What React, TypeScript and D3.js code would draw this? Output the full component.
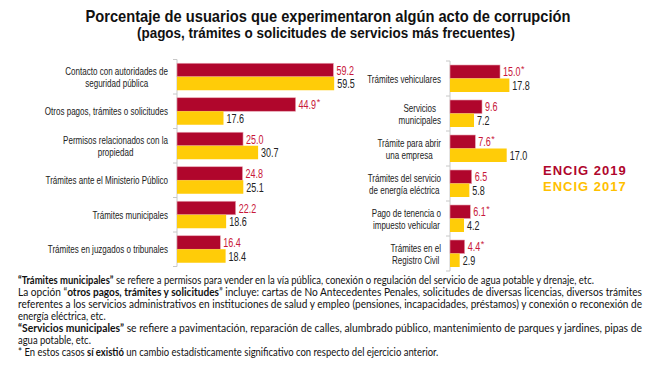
import React from "react";
import * as d3 from "d3";

const leftCategories = [
  ["Contacto con autoridades de", "seguridad pública"],
  ["Otros pagos, trámites o solicitudes"],
  ["Permisos relacionados con la", "propiedad"],
  ["Trámites ante el Ministerio Público"],
  ["Trámites municipales"],
  ["Trámites en juzgados o tribunales"],
];
const left2019 = [59.2, 44.9, 25.0, 24.8, 22.2, 16.4];
const left2017 = [59.5, 17.6, 30.7, 25.1, 18.6, 18.4];
const leftSignificant = [false, true, false, false, false, false];

const rightCategories = [
  ["Trámites vehiculares"],
  ["Servicios", "municipales"],
  ["Trámite para abrir", "una empresa"],
  ["Trámites del servicio", "de energía eléctrica"],
  ["Pago de tenencia o", "impuesto vehicular"],
  ["Trámites en el", "Registro Civil"],
];
const right2019 = [15.0, 9.6, 7.6, 6.5, 6.1, 4.4];
const right2017 = [17.8, 7.2, 17.0, 5.8, 4.2, 2.9];
const rightSignificant = [true, false, true, false, true, true];

const seriesNames = ["ENCIG 2019", "ENCIG 2017"];

const RED = "#b0062c";
const RED_TEXT = "#c8173a";
const YELLOW = "#ffcc08";
const LEGEND_YELLOW = "#ffc000";
const SANS = "'Liberation Sans', Arial, sans-serif";
const FOOT = "Lato, 'Open Sans', sans-serif";

let ctx: CanvasRenderingContext2D | null = null;
function measure(text: string, font: string) {
  if (!ctx) ctx = document.createElement("canvas").getContext("2d");
  if (!ctx) return text.length * 5;
  ctx.font = font;
  return ctx.measureText(text).width;
}

const LABEL_SIZE = 11;
const LABEL_SQUEEZE = 0.73;
const VALUE_SIZE = 12.5;
const VALUE_SQUEEZE = 0.72;

type PanelProps = {
  cats: string[][];
  v19: number[];
  v17: number[];
  sig: boolean[];
  axisX: number;
  top: number;
  step: number;
  maxVal: number;
  maxPx: number;
};

function Panel({ cats, v19, v17, sig, axisX, top, step, maxVal, maxPx }: PanelProps) {
  const x = d3.scaleLinear().domain([0, maxVal]).range([axisX, axisX + maxPx]);
  const y = d3
    .scaleBand<number>()
    .domain(d3.range(cats.length))
    .range([top, top + step * cats.length])
    .paddingInner(0);
  const barH = 13.5;
  const fmt = d3.format(".1f");
  const labelFont = `${LABEL_SIZE}px ${SANS}`;
  const valueFont = `${VALUE_SIZE}px ${SANS}`;

  return (
    <g>
      <line x1={axisX} x2={axisX} y1={y(0)} y2={y(cats.length - 1)! + step} stroke="#c8c8c8" strokeWidth={1} />
      {d3.range(cats.length + 1).map((i) => (
        <line key={"t" + i} x1={axisX - 4} x2={axisX} y1={top + i * step} y2={top + i * step} stroke="#c8c8c8" />
      ))}
      {cats.map((lines, i) => {
        const cy = y(i)! + step / 2;
        const widths = lines.map((l) => measure(l, labelFont) * LABEL_SQUEEZE);
        const blockW = Math.max(...widths);
        const cx = axisX - 9 - blockW / 2;
        const lh = 12;
        const y0 = cy - ((lines.length - 1) * lh) / 2 + 4;
        const r = x(v19[i]);
        const yl = x(v17[i]);
        const t19 = fmt(v19[i]);
        const t17 = fmt(v17[i]);
        const w19 = measure(t19, valueFont) * VALUE_SQUEEZE;
        const w17 = measure(t17, valueFont) * VALUE_SQUEEZE;
        return (
          <g key={i}>
            {lines.map((l, j) => (
              <text
                key={j}
                x={cx}
                y={y0 + j * lh}
                textAnchor="middle"
                fontFamily={SANS}
                fontSize={LABEL_SIZE}
                fill="#222"
                textLength={widths[j]}
                lengthAdjust="spacingAndGlyphs"
              >
                {l}
              </text>
            ))}
            <rect x={axisX} y={cy - barH} width={r - axisX} height={barH} fill={RED} stroke="#e7a3b1" strokeWidth={0.6} />
            <rect x={axisX} y={cy} width={yl - axisX} height={barH} fill={YELLOW} />
            <text
              x={r + 3}
              y={cy - barH / 2 + 4.5}
              fontFamily={SANS}
              fontSize={VALUE_SIZE}
              fill={RED_TEXT}
              textLength={w19}
              lengthAdjust="spacingAndGlyphs"
            >
              {t19}
            </text>
            {sig[i] && (
              <text x={r + 3 + w19 + 0.5} y={cy - barH / 2} fontFamily={SANS} fontSize={9} fill={RED_TEXT}>
                *
              </text>
            )}
            <text
              x={yl + 3}
              y={cy + barH / 2 + 4.5}
              fontFamily={SANS}
              fontSize={VALUE_SIZE}
              fill="#222"
              textLength={w17}
              lengthAdjust="spacingAndGlyphs"
            >
              {t17}
            </text>
          </g>
        );
      })}
    </g>
  );
}

type Seg = { t: string; b?: boolean };
const footLines: { segs: Seg[]; justify: boolean }[] = [
  {
    segs: [
      { t: "“Trámites municipales”", b: true },
      { t: " se refiere a permisos para vender en la vía pública, conexión o regulación del servicio de agua potable y drenaje, etc." },
    ],
    justify: false,
  },
  {
    segs: [
      { t: "La opción “" },
      { t: "otros pagos, trámites y solicitudes", b: true },
      { t: "” incluye: cartas de No Antecedentes Penales, solicitudes de diversas licencias, diversos trámites" },
    ],
    justify: true,
  },
  {
    segs: [
      { t: "referentes a los servicios administrativos en instituciones de salud y empleo (pensiones, incapacidades, préstamos) y conexión o reconexión de" },
    ],
    justify: true,
  },
  { segs: [{ t: "energía eléctrica, etc." }], justify: false },
  {
    segs: [
      { t: "“Servicios municipales”", b: true },
      { t: " se refiere a pavimentación, reparación de calles, alumbrado público, mantenimiento de parques y jardines, pipas de" },
    ],
    justify: true,
  },
  { segs: [{ t: "agua potable, etc." }], justify: false },
  {
    segs: [
      { t: "* En estos casos " },
      { t: "sí existió", b: true },
      { t: " un cambio estadísticamente significativo con respecto del ejercicio anterior." },
    ],
    justify: false,
  },
];

const FOOT_SIZE = 11;
const FOOT_SQUEEZE = 0.86;
const FOOT_LEFT = 18;
const FOOT_RIGHT = 642;

export default function App() {
  return (
    <svg
      width={660}
      height={374}
      style={{ position: "absolute", left: 0, top: 0, background: "#fff" }}
    >
      <text
        x={328}
        y={22}
        textAnchor="middle"
        fontFamily={SANS}
        fontWeight="bold"
        fontSize={17}
        fill="#111"
        textLength={485}
        lengthAdjust="spacingAndGlyphs"
      >
        Porcentaje de usuarios que experimentaron algún acto de corrupción
      </text>
      <text
        x={326}
        y={38}
        textAnchor="middle"
        fontFamily={SANS}
        fontWeight="bold"
        fontSize={14}
        fill="#111"
        textLength={378}
        lengthAdjust="spacingAndGlyphs"
      >
        (pagos, trámites o solicitudes de servicios más frecuentes)
      </text>

      <Panel
        cats={leftCategories}
        v19={left2019}
        v17={left2017}
        sig={leftSignificant}
        axisX={177}
        top={59.5}
        step={34.5}
        maxVal={60}
        maxPx={158.5}
      />
      <Panel
        cats={rightCategories}
        v19={right2019}
        v17={right2017}
        sig={rightSignificant}
        axisX={450}
        top={61}
        step={35}
        maxVal={20}
        maxPx={66.7}
      />

      {seriesNames.map((s, i) => (
        <text
          key={s}
          x={543}
          y={175 + i * 16}
          fontFamily={SANS}
          fontWeight="bold"
          fontSize={13}
          letterSpacing={1}
          fill={i === 0 ? RED : LEGEND_YELLOW}
        >
          {s}
        </text>
      ))}

      {footLines.map((line, i) => {
        const natural = line.segs.reduce(
          (acc, s) => acc + measure(s.t, `${s.b ? "bold " : ""}${FOOT_SIZE}px ${FOOT}`),
          0
        );
        const len = line.justify ? FOOT_RIGHT - FOOT_LEFT : natural * FOOT_SQUEEZE;
        return (
          <text
            key={i}
            x={FOOT_LEFT}
            y={284 + i * 12}
            fontFamily={FOOT}
            fontSize={FOOT_SIZE}
            fill="#111"
            textLength={len}
            lengthAdjust="spacingAndGlyphs"
            style={{ whiteSpace: "pre" }}
          >
            {line.segs.map((s, j) => (
              <tspan key={j} fontWeight={s.b ? "bold" : "normal"}>
                {s.t}
              </tspan>
            ))}
          </text>
        );
      })}
    </svg>
  );
}
